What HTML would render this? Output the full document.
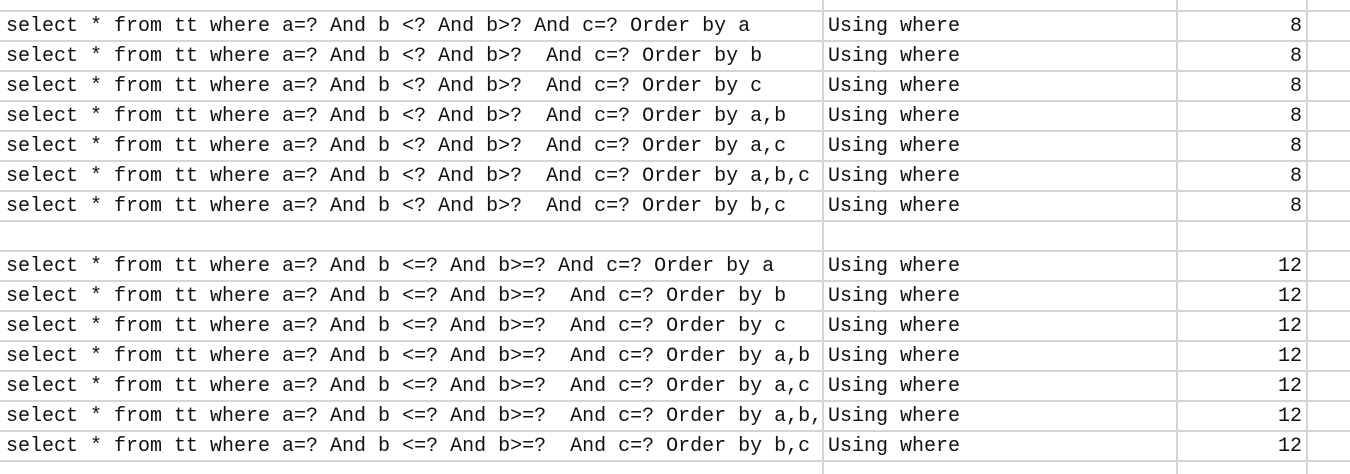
<!DOCTYPE html>
<html><head><meta charset="utf-8"><style>
body{margin:0;width:1350px;height:474px;background:#fff;overflow:hidden;position:relative;font-family:"Liberation Mono","Noto Sans CJK SC",monospace;font-size:20px;color:#111}
.h{position:absolute;left:0;width:1350px;height:2px;background:#d4d4d4}
.v{position:absolute;top:0;height:474px;width:2px;background:#d4d4d4}
.t{position:absolute;height:28px;line-height:28px;white-space:pre}
.n{position:absolute;left:1180px;width:122px;text-align:right;height:28px;line-height:28px}
</style></head><body>
<div class="v" style="left:822px"></div>
<div class="v" style="left:1176px"></div>
<div class="v" style="left:1306px"></div>
<div id="g"></div>
<script>
var rows=[
["select * from tt where a=? And b <? And b>? And c=? Order by a","8"],
["select * from tt where a=? And b <? And b>?  And c=? Order by b","8"],
["select * from tt where a=? And b <? And b>?  And c=? Order by c","8"],
["select * from tt where a=? And b <? And b>?  And c=? Order by a,b","8"],
["select * from tt where a=? And b <? And b>?  And c=? Order by a,c","8"],
["select * from tt where a=? And b <? And b>?  And c=? Order by a,b,c","8"],
["select * from tt where a=? And b <? And b>?  And c=? Order by b,c","8"],
null,
["select * from tt where a=? And b <=? And b>=? And c=? Order by a","12"],
["select * from tt where a=? And b <=? And b>=?  And c=? Order by b","12"],
["select * from tt where a=? And b <=? And b>=?  And c=? Order by c","12"],
["select * from tt where a=? And b <=? And b>=?  And c=? Order by a,b","12"],
["select * from tt where a=? And b <=? And b>=?  And c=? Order by a,c","12"],
["select * from tt where a=? And b <=? And b>=?  And c=? Order by a,b,","12"],
["select * from tt where a=? And b <=? And b>=?  And c=? Order by b,c","12"]];
var h='';
for(var i=0;i<=15;i++)h+='<div class="h" style="top:'+(10+30*i)+'px"></div>';
rows.forEach(function(r,i){if(!r)return;var y=13+30*i;
h+='<div class="t" style="left:6px;top:'+y+'px">'+r[0].replace(/</g,'&lt;')+'</div>';
h+='<div class="t" style="left:828px;top:'+y+'px">Using where</div>';
h+='<div class="n" style="top:'+y+'px">'+r[1]+'</div>';});
document.getElementById('g').innerHTML=h;
</script>
</body></html>
